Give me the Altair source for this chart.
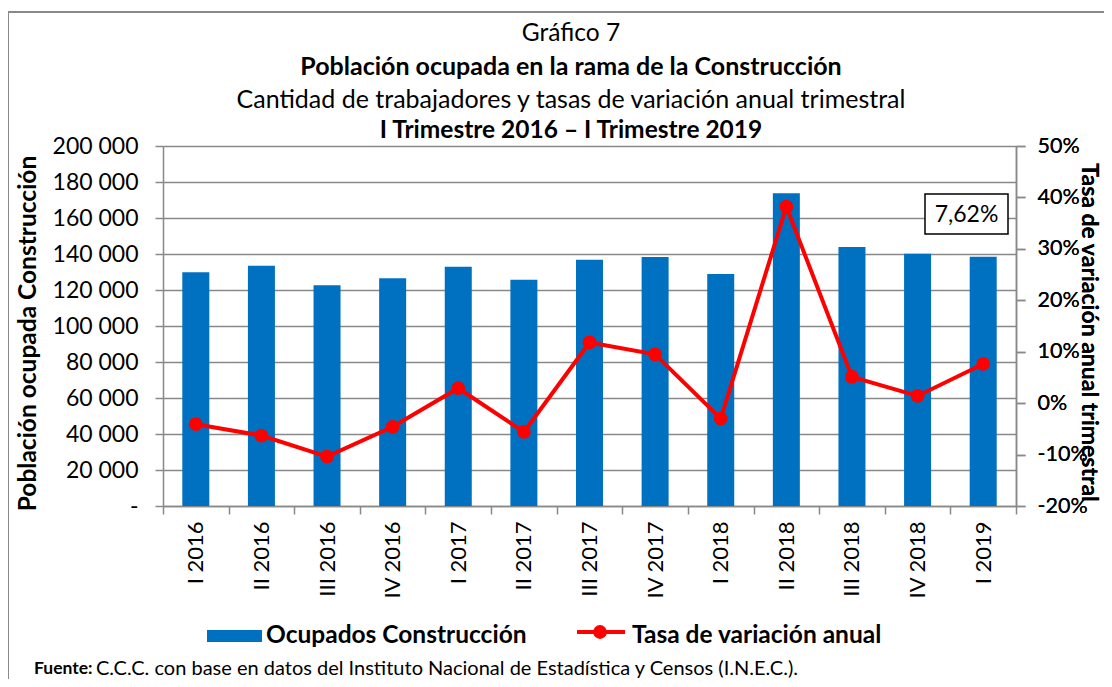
import altair as alt
import pandas as pd

# ---- data ----
trimestres = ["I 2016", "II 2016", "III 2016", "IV 2016",
              "I 2017", "II 2017", "III 2017", "IV 2017",
              "I 2018", "II 2018", "III 2018", "IV 2018", "I 2019"]
ocupados = [129800, 133500, 122600, 126500,
            132900, 125700, 136800, 138300,
            128900, 173700, 143900, 140200, 138500]
tasa = [-4.1, -6.3, -10.4, -4.6,
        2.9, -5.6, 11.8, 9.5,
        -3.0, 38.2, 5.1, 1.4, 7.62]

titulo_1 = "Gráfico 7"
titulo_2 = "Población ocupada en la rama de la Construcción"
titulo_3 = "Cantidad de trabajadores y tasas de variación anual trimestral"
titulo_4 = "I Trimestre 2016 – I Trimestre 2019"
eje_izq = "Población ocupada Construcción"
eje_der = "Tasa de variación anual trimestral"
serie_barras = "Ocupados Construcción"
serie_linea = "Tasa de variación anual"
fuente_neg = "Fuente:"
fuente_txt = "C.C.C. con base en datos del Instituto Nacional de Estadística y Censos (I.N.E.C.)."

etiqueta = f"{tasa[-1]:.2f}".replace(".", ",") + "%"

df = pd.DataFrame({"trimestre": trimestres, "ocupados": ocupados, "tasa": tasa})
one = pd.DataFrame({"k": [0]})

FONT = "Lato"
GRAY = "#898989"
BLUE = "#0070C0"
RED = "#FF0000"

W, H = 853, 360

x_enc = alt.X("trimestre:N", sort=trimestres, title=None,
              scale=alt.Scale(paddingInner=0, paddingOuter=0),
              axis=alt.Axis(labelAngle=270, labelFontSize=22, labelPadding=7,
                            tickBand="extent", tickSize=8, tickWidth=1.5,
                            domainWidth=1.5, labelColor="black"))

bars = alt.Chart(df).mark_bar(color=BLUE, size=27).encode(
    x=x_enc,
    y=alt.Y("ocupados:Q",
            scale=alt.Scale(domain=[0, 200000], nice=False),
            axis=alt.Axis(orient="left", values=list(range(0, 200001, 20000)),
                          labelExpr="datum.value == 0 ? '-' : replace(format(datum.value, ',d'), ',', ' ')",
                          labelFontSize=23, labelPadding=17, tickSize=8, tickWidth=1.5,
                          domainWidth=1.5, grid=True, gridColor=GRAY, gridWidth=1.5,
                          title=eje_izq, titleFontSize=24.5, titleFontWeight="bold",
                          titleAngle=270, titleX=-135, titleY=187,
                          titleAlign="center", titleBaseline="middle"))
)

line_y = alt.Y("tasa:Q",
               scale=alt.Scale(domain=[-20, 50], nice=False, zero=False),
               axis=alt.Axis(orient="right", values=list(range(-20, 51, 10)),
                             labelExpr="datum.value + '%'",
                             labelFontSize=21.5, labelPadding=12, tickSize=9, tickWidth=1.5,
                             domainWidth=1.5, grid=False,
                             title=eje_der, titleFontSize=23, titleFontWeight="bold",
                             titleAngle=90, titleX=72, titleY=186,
                             titleAlign="center", titleBaseline="middle"))

line = alt.Chart(df).mark_line(color=RED, strokeWidth=4).encode(x=x_enc, y=line_y)
points = alt.Chart(df).mark_point(color=RED, filled=True, opacity=1, size=190).encode(x=x_enc, y=line_y)

last = alt.Chart(df).transform_filter(alt.datum.trimestre == trimestres[-1])
box = last.mark_rect(fill="white", stroke="black", strokeWidth=1.5).encode(
    x=alt.value(762), x2=alt.value(845), y=alt.value(48), y2=alt.value(88))
box_txt = last.mark_text(font=FONT, fontSize=23, color="black", baseline="middle", align="center").encode(
    x=alt.value(803.5), y=alt.value(68.5), text=alt.value(etiqueta))

def txt(s, x, y, size, weight="normal", align="center"):
    return alt.Chart(one).mark_text(font=FONT, fontSize=size, fontWeight=weight,
                                    color="black", align=align, baseline="middle").encode(
        x=alt.value(x), y=alt.value(y), text=alt.value(s))

border = alt.Chart(one).mark_rect(fillOpacity=0, stroke=GRAY, strokeWidth=2).encode(
    x=alt.value(-155), x2=alt.value(967), y=alt.value(-134), y2=alt.value(560))

t1 = txt(titulo_1, 408, -112, 24.5)
t2 = txt(titulo_2, 408, -79, 25, "bold")
t3 = txt(titulo_3, 408, -46, 25)
t4 = txt(titulo_4, 408, -15, 24.5, "bold")

leg_rect = alt.Chart(one).mark_rect(color=BLUE).encode(
    x=alt.value(44), x2=alt.value(99), y=alt.value(484), y2=alt.value(496))
leg_t1 = txt(serie_barras, 103, 490, 24.5, "bold", "left")
leg_rule = alt.Chart(one).mark_rule(color=RED, strokeWidth=4).encode(
    x=alt.value(414), x2=alt.value(462), y=alt.value(486))
leg_dot = alt.Chart(one).mark_point(color=RED, filled=True, opacity=1, size=190).encode(
    x=alt.value(437), y=alt.value(486))
leg_t2 = txt(serie_linea, 469, 490, 24.5, "bold", "left")

f1 = txt(fuente_neg, -129, 523, 17.5, "bold", "left")
f2 = txt(fuente_txt, -67, 523, 20, "normal", "left")

chart = alt.layer(
    border, bars, line, points, box, box_txt,
    t1, t2, t3, t4, leg_rect, leg_t1, leg_rule, leg_dot, leg_t2, f1, f2
).resolve_scale(y="independent").properties(
    width=W, height=H,
    autosize=alt.AutoSizeParams(type="none"),
    padding={"left": 155, "top": 138, "right": 88, "bottom": 173},
    background="white",
).configure_view(strokeWidth=0).configure_axis(
    labelFont=FONT, titleFont=FONT, domainColor=GRAY, tickColor=GRAY,
    labelColor="black", titleColor="black"
)

chart.save("out.html", embed_options={"renderer": "svg", "actions": False})
